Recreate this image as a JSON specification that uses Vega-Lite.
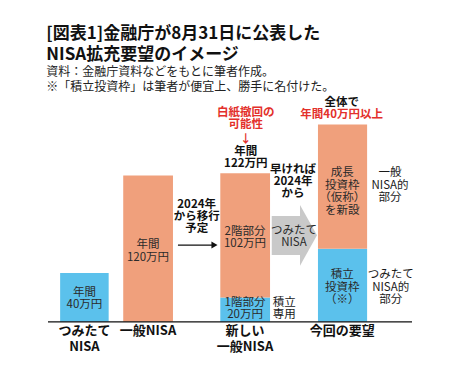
{
  "$schema": "https://vega.github.io/schema/vega-lite/v6.json",
  "width": 364,
  "height": 273,
  "autosize": {"type": "none"},
  "padding": {"left": 48, "top": 100, "right": 42, "bottom": 0},
  "background": "white",
  "config": {"view": {"stroke": null}, "font": "Noto Sans CJK JP"},
  "title": {
    "text": ["[図表1]金融庁が8月31日に公表した", "NISA拡充要望のイメージ"],
    "subtitle": ["資料：金融庁資料などをもとに筆者作成。", "※「積立投資枠」は筆者が便宜上、勝手に名付けた。"],
    "anchor": "start",
    "font": "Noto Sans CJK JP",
    "fontSize": 17,
    "fontWeight": "bold",
    "lineHeight": 21,
    "color": "#111111",
    "subtitleFont": "Noto Sans CJK JP",
    "subtitleFontSize": 12,
    "subtitleLineHeight": 15,
    "subtitleColor": "#222222",
    "subtitlePadding": 3,
    "offset": 3,
    "dx": -1
  },
  "datasets": {
    "bars": [
      {"x": 1, "x2": 5, "y": 0, "y2": 40, "part": "つみたて系"},
      {"x": 6.2, "x2": 10.3, "y": 0, "y2": 120, "part": "一般系"},
      {"x": 14.2, "x2": 18.3, "y": 0, "y2": 20, "part": "つみたて系"},
      {"x": 14.2, "x2": 18.3, "y": 20, "y2": 122, "part": "一般系"},
      {"x": 22.25, "x2": 26.3, "y": 0, "y2": 60, "part": "つみたて系"},
      {"x": 22.25, "x2": 26.3, "y": 60, "y2": 162, "part": "一般系"}
    ],
    "shaft": [{"x": 18.44, "x2": 20.77, "y": 54.8, "y2": 86.8}],
    "head": [
      {"x": 20.77, "y": 95.8, "y2": 46.0},
      {"x": 22.17, "y": 71.0, "y2": 71.0}
    ],
    "baseline": [{"x": 0, "x2": 30, "y": 0}],
    "arrowline": [{"x": 10.71, "x2": 13.7, "y": 63}],
    "arrowhead": [{"x": 13.72, "y": 63}],
    "inner": [
      {"x": 3.0, "y": 23.9, "label": "年間\n40万円"},
      {"x": 8.24, "y": 63.0, "label": "年間\n120万円"},
      {"x": 16.24, "y": 73.9, "label": "2階部分\n102万円"},
      {"x": 16.24, "y": 15.7, "label": "1階部分\n20万円"},
      {"x": 24.26, "y": 121.8, "label": "成長\n投資枠\n（仮称）\nを新設"},
      {"x": 24.26, "y": 38.4, "label": "積立\n投資枠\n（※）"},
      {"x": 20.27, "y": 74.7, "label": "つみたて\nNISA"}
    ],
    "sideleft": [{"x": 18.52, "y": 15.7, "label": "積立\n専用"}],
    "side": [
      {"x": 28.19, "y": 121.8, "label": "一般\nNISA的\n部分"},
      {"x": 28.24, "y": 38.4, "label": "つみたて\nNISA的\n部分"}
    ],
    "bold": [
      {"x": 12.25, "y": 95.8, "label": "2024年\nから移行\n予定"},
      {"x": 20.2, "y": 124.6, "label": "早ければ\n2024年\nから"},
      {"x": 16.3, "y": 139.6, "label": "年間\n122万円"},
      {"x": 24.2, "y": 179.3, "label": "全体で"}
    ],
    "red": [
      {"x": 16.3, "y": 171.3, "label": "白紙撤回の\n可能性"},
      {"x": 24.2, "y": 169.7, "label": "年間40万円以上"},
      {"x": 16.3, "y": 149.2, "label": "↓"}
    ],
    "category": [
      {"x": 3.0, "y": -7.3, "label": "つみたて\nNISA"},
      {"x": 8.24, "y": -7.3, "label": "一般NISA"},
      {"x": 16.24, "y": -7.3, "label": "新しい\n一般NISA"},
      {"x": 24.26, "y": -7.3, "label": "今回の要望"}
    ]
  },
  "encoding": {
    "x": {"field": "x", "type": "quantitative", "scale": {"domain": [0, 30], "nice": false, "zero": false}, "axis": null},
    "y": {"field": "y", "type": "quantitative", "scale": {"domain": [-42, 182], "nice": false, "zero": false}, "axis": null}
  },
  "layer": [
    {
      "data": {"name": "bars"},
      "mark": {"type": "rect"},
      "encoding": {
        "x2": {"field": "x2"},
        "y2": {"field": "y2"},
        "color": {"field": "part", "type": "nominal", "scale": {"domain": ["つみたて系", "一般系"], "range": ["#5BC1EC", "#F0A07C"]}, "legend": null}
      }
    },
    {
      "data": {"name": "shaft"},
      "mark": {"type": "rect", "color": "#C9C9C9"},
      "encoding": {"x2": {"field": "x2"}, "y2": {"field": "y2"}}
    },
    {
      "data": {"name": "head"},
      "mark": {"type": "area", "color": "#C9C9C9", "orient": "vertical"},
      "encoding": {"y2": {"field": "y2"}}
    },
    {
      "data": {"name": "baseline"},
      "mark": {"type": "rule", "color": "#111111", "strokeWidth": 1.3},
      "encoding": {"x2": {"field": "x2"}}
    },
    {
      "data": {"name": "arrowline"},
      "mark": {"type": "rule", "color": "#111111", "strokeWidth": 1.3},
      "encoding": {"x2": {"field": "x2"}}
    },
    {
      "data": {"name": "arrowhead"},
      "mark": {"type": "point", "shape": "triangle-right", "filled": true, "size": 50, "color": "#111111", "opacity": 1}
    },
    {
      "data": {"name": "inner"},
      "mark": {"type": "text", "fontSize": 11.5, "lineHeight": 12.5, "lineBreak": "\n", "color": "#2a2a2a", "align": "center", "baseline": "middle"},
      "encoding": {"text": {"field": "label", "type": "nominal"}}
    },
    {
      "data": {"name": "sideleft"},
      "mark": {"type": "text", "fontSize": 11.5, "lineHeight": 12.5, "lineBreak": "\n", "color": "#1a1a1a", "align": "left", "baseline": "middle"},
      "encoding": {"text": {"field": "label", "type": "nominal"}}
    },
    {
      "data": {"name": "side"},
      "mark": {"type": "text", "fontSize": 11.5, "lineHeight": 12.5, "lineBreak": "\n", "color": "#1a1a1a", "align": "center", "baseline": "middle"},
      "encoding": {"text": {"field": "label", "type": "nominal"}}
    },
    {
      "data": {"name": "bold"},
      "mark": {"type": "text", "fontSize": 11.5, "fontWeight": "bold", "lineHeight": 12, "lineBreak": "\n", "color": "#111111", "align": "center", "baseline": "middle"},
      "encoding": {"text": {"field": "label", "type": "nominal"}}
    },
    {
      "data": {"name": "red"},
      "mark": {"type": "text", "fontSize": 11.5, "fontWeight": "bold", "lineHeight": 11.5, "lineBreak": "\n", "color": "#E3302B", "align": "center", "baseline": "middle"},
      "encoding": {"text": {"field": "label", "type": "nominal"}}
    },
    {
      "data": {"name": "category"},
      "mark": {"type": "text", "fontSize": 13, "fontWeight": "bold", "lineHeight": 16, "lineBreak": "\n", "color": "#111111", "align": "center", "baseline": "middle"},
      "encoding": {"text": {"field": "label", "type": "nominal"}}
    }
  ]
}
